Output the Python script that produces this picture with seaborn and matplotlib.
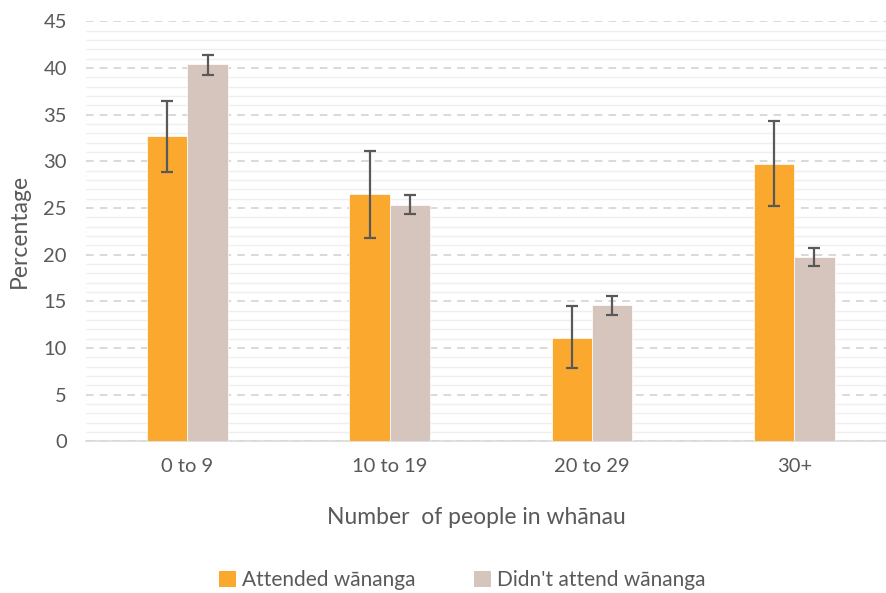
import matplotlib
matplotlib.use("Agg")
import matplotlib.pyplot as plt
import seaborn as sns
import pandas as pd
import numpy as np
from matplotlib.patches import Patch
from matplotlib.ticker import MultipleLocator

categories = ["0 to 9", "10 to 19", "20 to 29", "30+"]
series_names = ["Attended wānanga", "Didn't attend wānanga"]
attended = [32.7, 26.5, 11.1, 29.7]
attended_lo = [28.8, 21.8, 7.8, 25.2]
attended_hi = [36.5, 31.1, 14.5, 34.3]
not_attended = [40.4, 25.3, 14.6, 19.7]
not_attended_lo = [39.3, 24.3, 13.5, 18.8]
not_attended_hi = [41.4, 26.4, 15.6, 20.7]

colors = ["#FBA82E", "#D6C5BD"]
text_color = "#595959"

df = pd.DataFrame({
    "cat": categories * 2,
    "series": [series_names[0]] * 4 + [series_names[1]] * 4,
    "value": attended + not_attended,
})

sns.set_style("white")
plt.rcParams["font.family"] = ["Lato", "DejaVu Sans"]

fig = plt.figure(figsize=(8.86, 5.93), dpi=100)
ax = fig.add_axes([0.0975, 0.256, 0.913, 0.708])

sns.barplot(data=df, x="cat", y="value", hue="series", order=categories,
            hue_order=series_names, palette=colors, width=0.4, dodge=True,
            errorbar=None, ax=ax, legend=False, saturation=1,
            edgecolor="white", linewidth=0.5, zorder=3)

bars = ax.patches
vals = [attended, not_attended]
los = [attended_lo, not_attended_lo]
his = [attended_hi, not_attended_hi]
for si in range(2):
    for ci in range(4):
        p = bars[si * 4 + ci]
        xc = p.get_x() + p.get_width() / 2
        v = vals[si][ci]
        ax.errorbar(xc, v, yerr=[[v - los[si][ci]], [his[si][ci] - v]],
                    fmt="none", ecolor="#595959", elinewidth=1.6,
                    capsize=4.5, capthick=1.6, zorder=4)

ax.set_xlim(-0.5, 3.5)
ax.set_ylim(0, 45)
ax.yaxis.set_major_locator(MultipleLocator(5))
ax.yaxis.set_minor_locator(MultipleLocator(1))
ax.grid(which="major", axis="y", color="#D0D0D0", linestyle=(0, (5, 4)), linewidth=1.1, zorder=0)
ax.grid(which="minor", axis="y", color="#EFEFEF", linestyle="-", linewidth=1.0, zorder=0)
ax.set_axisbelow(True)
for s in ["top", "right", "left"]:
    ax.spines[s].set_visible(False)
ax.spines["bottom"].set_color("#D9D9D9")
ax.spines["bottom"].set_linewidth(1.2)

ax.tick_params(axis="both", which="both", length=0, labelsize=14.5, labelcolor=text_color)
ax.tick_params(axis="x", pad=12)
ax.tick_params(axis="y", pad=14)
ax.set_xlabel("Number  of people in whānau", fontsize=16.5, color=text_color)
ax.xaxis.set_label_coords(0.482, -0.157)
ax.set_ylabel("Percentage", fontsize=16.5, color=text_color, labelpad=10)

handles = [Patch(facecolor=c, edgecolor="none") for c in colors]
fig.legend(handles, series_names, loc="center", bbox_to_anchor=(0.522, 0.022),
           ncol=2, frameon=False, fontsize=15, handlelength=0.8, handleheight=0.8,
           handletextpad=0.3, columnspacing=2.8, labelcolor=text_color)

fig.savefig("out.png", dpi=100)
